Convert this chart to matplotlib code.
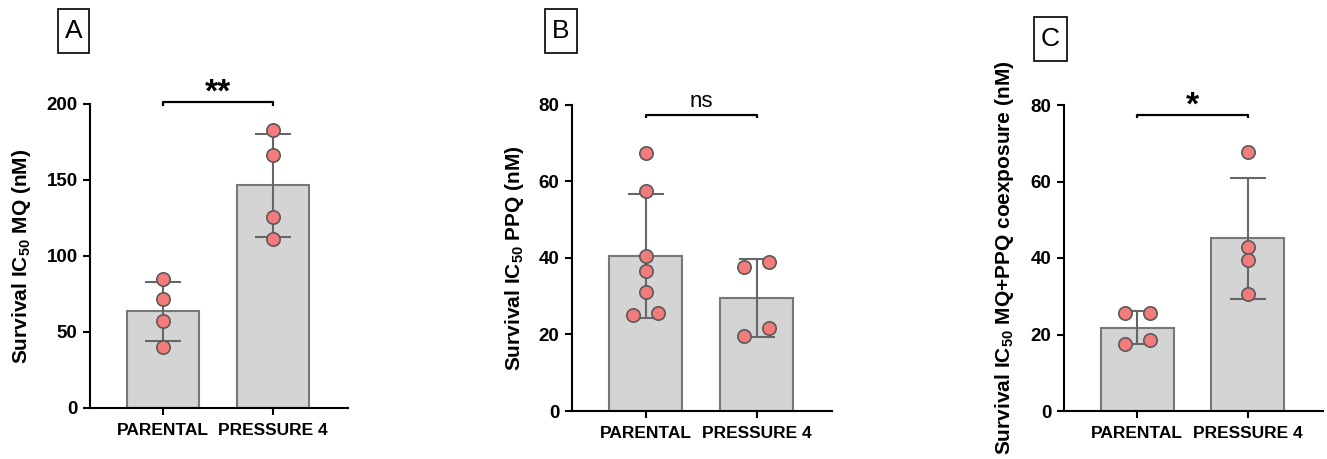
import numpy as np
import matplotlib
matplotlib.use("Agg")
from matplotlib import pyplot as plt
from matplotlib.patches import Rectangle

plt.rcParams['font.family'] = ['Liberation Sans', 'DejaVu Sans']
plt.rcParams['mathtext.default'] = 'regular'

groups = ["PARENTAL", "PRESSURE 4"]

mq_parental = [85, 72, 57.5, 40]
mq_pressure = [183, 166.4, 125.4, 111]

ppq_parental = [67.4, 57.5, 40.5, 36.6, 31, 25, 25.5]
ppq_pressure = [38.9, 37.5, 21.7, 19.7]

combo_parental = [25.5, 25.5, 17.5, 18.5]
combo_pressure = [67.6, 42.8, 39.5, 30.6]

panels = [
    dict(letter="A", data=[mq_parental, mq_pressure], ymax=200, step=50,
         ylabel="Survival IC$_{50}$ MQ (nM)", sig="**", bracket=201),
    dict(letter="B", data=[ppq_parental, ppq_pressure], ymax=80, step=20,
         ylabel="Survival IC$_{50}$ PPQ (nM)", sig="ns", bracket=77.3),
    dict(letter="C", data=[combo_parental, combo_pressure], ymax=80, step=20,
         ylabel="Survival IC$_{50}$ MQ+PPQ coexposure (nM)", sig="*", bracket=77.3),
]

W, H = 1327, 459
# axes boxes in pixels: left, right, top, bottom
boxes = [(90, 348, 104, 408), (572, 832, 104.7, 411), (1064, 1323, 105, 411)]
label_x = [-0.222, -0.178, -0.186]
letter_boxes = [(58, 9, 31, 44), (545, 9, 32, 44), (1034, 17, 33, 44)]

fig = plt.figure(figsize=(W / 100, H / 100), dpi=100)


def spread(vals, tol):
    # push overlapping points sideways, lower value to the left
    offs = np.zeros(len(vals))
    order = np.argsort(vals)
    i = 0
    while i < len(order):
        j = i
        while j + 1 < len(order) and vals[order[j + 1]] - vals[order[j]] < tol:
            j += 1
        n = j - i + 1
        if n > 1:
            offs[order[i:j + 1]] = np.linspace(-0.113, 0.113, n)
        i = j + 1
    return offs


for p, (l, r, t, b), lx, lb in zip(panels, boxes, label_x, letter_boxes):
    ax = fig.add_axes([l / W, (H - b) / H, (r - l) / W, (b - t) / H])
    x = np.arange(len(groups))
    means = [np.mean(d) for d in p["data"]]
    sds = [np.std(d, ddof=1) for d in p["data"]]

    ax.bar(x, means, width=0.66, color="#d4d4d4", edgecolor="#777777", linewidth=1.5, zorder=1)
    ax.errorbar(x, means, yerr=sds, fmt="none", ecolor="#666666", elinewidth=1.5,
                capsize=13, capthick=1.5, zorder=2)
    for xi, d in zip(x, p["data"]):
        d = np.asarray(d, dtype=float)
        offs = spread(d, 0.04 * p["ymax"])
        ax.plot(xi + offs, d, "o", ms=9.6, mfc="#f47b7b", mec="#5a5a5a", mew=1.2,
                zorder=3, clip_on=False)

    ax.set_xlim(-0.664, 1.68)
    ax.set_ylim(0, p["ymax"])
    ax.set_yticks(np.arange(0, p["ymax"] + 1, p["step"]))
    ax.set_xticks(x)
    ax.set_xticklabels(groups, fontsize=12.5, fontweight="bold")
    for lab in ax.get_yticklabels():
        lab.set_fontsize(13.5)
        lab.set_fontweight("bold")
    ax.tick_params(width=1.5, length=5, color="black")
    ax.tick_params(axis="y", pad=4)
    ax.tick_params(axis="x", pad=6)
    for s in ["top", "right"]:
        ax.spines[s].set_visible(False)
    for s in ["left", "bottom"]:
        ax.spines[s].set_linewidth(1.5)

    ax.set_ylabel(p["ylabel"], fontsize=15, fontweight="bold")
    ax.yaxis.set_label_coords(lx, 0.5)

    # significance bracket
    yb = p["bracket"]
    drop = 0.01 * p["ymax"]
    ax.plot([0, 0, 1, 1], [yb - drop, yb, yb, yb - drop], color="black", lw=1.6,
            clip_on=False, solid_capstyle="butt")
    if p["sig"] == "ns":
        ax.text(0.5, yb + 0.026 * p["ymax"], "ns", ha="center", va="baseline", fontsize=16)
    else:
        ax.text(0.5, yb + 0.002 * p["ymax"], p["sig"], ha="center", va="baseline",
                fontsize=24, fontweight="bold")

    # panel letter box
    bx, by, bw, bh = lb
    fig.patches.append(Rectangle((bx / W, 1 - (by + bh) / H), bw / W, bh / H,
                                 transform=fig.transFigure, fill=False,
                                 edgecolor="black", linewidth=1.2))
    fig.text((bx + bw / 2) / W, 1 - (by + bh / 2) / H, p["letter"], ha="center",
             va="center", fontsize=19)

fig.savefig("out.png", dpi=100)
